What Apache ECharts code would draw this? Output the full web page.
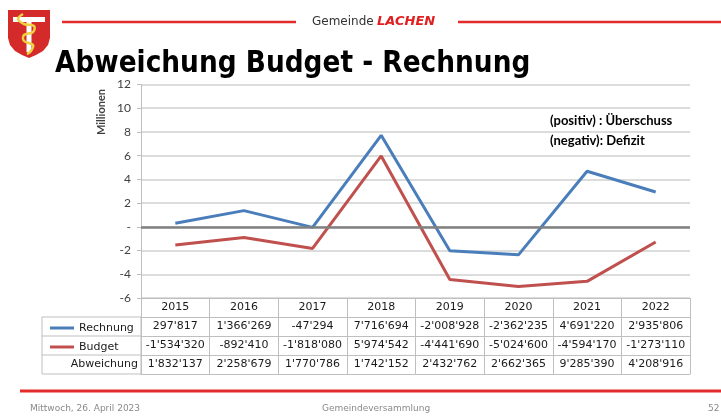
<!DOCTYPE html>
<html>
<head>
<meta charset="utf-8">
<script src="https://cdn.jsdelivr.net/npm/echarts@6/dist/echarts.min.js"></script>
<style>
  html, body { margin: 0; padding: 0; background: #fff; }
  #chart { width: 721px; height: 416px; }
</style>
</head>
<body>
<div id="chart"></div>
<script>
// Jahre und Werte (CHF)
const years = ["2015", "2016", "2017", "2018", "2019", "2020", "2021", "2022"]
const rechnung = [297817, 1366269, -47294, 7716694, -2008928, -2362235, 4691220, 2935806]
const budget = [-1534320, -892410, -1818080, 5974542, -4441690, -5024600, -4594170, -1273110]
const abweichung = [1832137, 2258679, 1770786, 1742152, 2432762, 2662365, 9285390, 4208916]

const BLUE = "#4a7ebb"
const RED = "#c0504d"
const BORDER = "#bfbfbf"
const tableFont = "DejaVu Sans"

// 1234567 -> 1'234'567
function fmt(n) {
  const s = Math.abs(n).toString().replace(/\B(?=(\d{3})+(?!\d))/g, "'")
  return (n < 0 ? "-" : "") + s
}
const toMio = v => v / 1e6

const ROW = 19
const tableRow = (offset, values, withTick) => ({
  type: "category",
  data: years,
  position: "bottom",
  offset: offset,
  axisLine: { show: true, onZero: false, lineStyle: { color: BORDER, width: 1 } },
  axisTick: withTick ? { show: true, length: ROW * 4, lineStyle: { color: BORDER } } : { show: false },
  axisLabel: values === null ? { show: false } : {
    interval: 0,
    hideOverlap: false,
    margin: 0,
    lineHeight: ROW,
    verticalAlign: "top",
    fontFamily: tableFont,
    fontSize: 11,
    color: "#1a1a1a",
    formatter: (v, i) => values ? fmt(values[i]) : v
  },
  splitLine: { show: false }
})

const myChart = echarts.init(document.getElementById("chart"))
myChart.setOption({
  animation: false,
  backgroundColor: "#fff",
  grid: { left: 141, right: 31, top: 84.5, bottom: 118 },
  legend: {
    orient: "vertical",
    left: 45,
    top: 313.5,
    icon: "rect",
    itemWidth: 24,
    itemHeight: 3,
    itemGap: 0,
    textStyle: { fontFamily: tableFont, fontSize: 11, color: "#1a1a1a", lineHeight: ROW },
    data: ["Rechnung", "Budget"]
  },
  xAxis: [
    tableRow(0, undefined, true),
    tableRow(ROW, rechnung, false),
    tableRow(ROW * 2, budget, false),
    tableRow(ROW * 3, abweichung, false),
    tableRow(ROW * 4, null, false)
  ],
  yAxis: {
    type: "value",
    min: -6,
    max: 12,
    interval: 2,
    axisLine: { show: true, lineStyle: { color: BORDER } },
    axisTick: { show: true, length: 4, lineStyle: { color: BORDER } },
    axisLabel: {
      margin: 10,
      fontFamily: "Lato",
      fontSize: 12,
      color: "#404040",
      formatter: v => v === 0 ? "-" : String(v)
    },
    splitLine: { lineStyle: { color: "#d0d0d0", width: 1.5 } }
  },
  series: [
    {
      name: "Rechnung",
      type: "line",
      data: rechnung.map(toMio),
      symbol: "none",
      lineStyle: { color: BLUE, width: 3 },
      itemStyle: { color: BLUE },
      z: 3,
      markLine: {
        silent: true,
        symbol: "none",
        label: { show: false },
        lineStyle: { color: "#808080", width: 2.5, type: "solid" },
        data: [{ yAxis: 0 }]
      }
    },
    {
      name: "Budget",
      type: "line",
      data: budget.map(toMio),
      symbol: "none",
      lineStyle: { color: RED, width: 3 },
      itemStyle: { color: RED },
      z: 3
    }
  ],
  graphic: [
    // Wappen
    { type: "polygon", shape: { points: [[8, 10], [50, 10], [50, 38], [48, 45], [43, 51], [36, 55], [29, 58], [22, 55], [15, 51], [10, 45], [8, 38]] }, style: { fill: "#d42a2a" } },
    { type: "rect", shape: { x: 13, y: 17, width: 32, height: 5 }, style: { fill: "#fff" } },
    { type: "rect", shape: { x: 26.5, y: 17, width: 5, height: 35 }, style: { fill: "#fff" } },
    { type: "polyline", shape: { points: [[23, 14], [18, 19], [24, 24], [34, 26], [33, 32], [24, 35], [24, 41], [33, 45], [31, 51], [27, 54]], smooth: 0.4 }, style: { fill: "none", stroke: "#f0d040", lineWidth: 2.5 } },
    // Kopfzeile
    { type: "line", shape: { x1: 62, y1: 22, x2: 296, y2: 22 }, style: { stroke: "#e42b2b", lineWidth: 2.5 } },
    { type: "line", shape: { x1: 458, y1: 22, x2: 721, y2: 22 }, style: { stroke: "#e42b2b", lineWidth: 2.5 } },
    {
      type: "text", x: 312, y: 22,
      style: {
        text: "{a|Gemeinde} {b|LACHEN}",
        verticalAlign: "middle",
        rich: {
          a: { fontFamily: "DejaVu Sans", fontSize: 12, fill: "#333" },
          b: { fontFamily: "DejaVu Sans", fontSize: 13, fontWeight: "bold", fontStyle: "italic", fill: "#e02020" }
        }
      }
    },
    {
      type: "text", x: 55, y: 64, scaleX: 0.88,
      style: { text: "Abweichung Budget - Rechnung", fontFamily: "DejaVu Sans", fontWeight: "bold", fontSize: 30, fill: "#000", verticalAlign: "middle" }
    },
    {
      type: "text", x: 101, y: 112, rotation: Math.PI / 2,
      style: { text: "Millionen", fontFamily: "Lato", fontWeight: "bold", fontSize: 11, fill: "#404040", align: "center", verticalAlign: "middle" }
    },
    { type: "text", x: 550, y: 121, style: { text: "(positiv) : Überschuss", fontFamily: "Lato", fontWeight: "bold", fontSize: 13, fill: "#000", verticalAlign: "middle" } },
    { type: "text", x: 550, y: 141, style: { text: "(negativ): Defizit", fontFamily: "Lato", fontWeight: "bold", fontSize: 13, fill: "#000", verticalAlign: "middle" } },
    // Zeilenbeschriftung der Tabelle
    { type: "rect", shape: { x: 42, y: 317, width: 99, height: ROW * 3 }, style: { fill: "none", stroke: BORDER, lineWidth: 1 } },
    { type: "line", shape: { x1: 42, y1: 317 + ROW, x2: 141, y2: 317 + ROW }, style: { stroke: BORDER } },
    { type: "line", shape: { x1: 42, y1: 317 + ROW * 2, x2: 141, y2: 317 + ROW * 2 }, style: { stroke: BORDER } },
    { type: "text", x: 138, y: 317 + ROW * 2.5, style: { text: "Abweichung", fontFamily: tableFont, fontSize: 11, fill: "#1a1a1a", align: "right", verticalAlign: "middle" } },
    // Fusszeile
    { type: "line", shape: { x1: 20, y1: 391, x2: 721, y2: 391 }, style: { stroke: "#e42b2b", lineWidth: 3 } },
    { type: "text", x: 30, y: 409, style: { text: "Mittwoch, 26. April 2023", fontFamily: "DejaVu Sans", fontSize: 9, fill: "#8a8a8a", verticalAlign: "middle" } },
    { type: "text", x: 376, y: 409, style: { text: "Gemeindeversammlung", fontFamily: "DejaVu Sans", fontSize: 9, fill: "#8a8a8a", align: "center", verticalAlign: "middle" } },
    { type: "text", x: 708, y: 409, style: { text: "52", fontFamily: "DejaVu Sans", fontSize: 9, fill: "#8a8a8a", verticalAlign: "middle" } }
  ]
})
</script>
</body>
</html>
